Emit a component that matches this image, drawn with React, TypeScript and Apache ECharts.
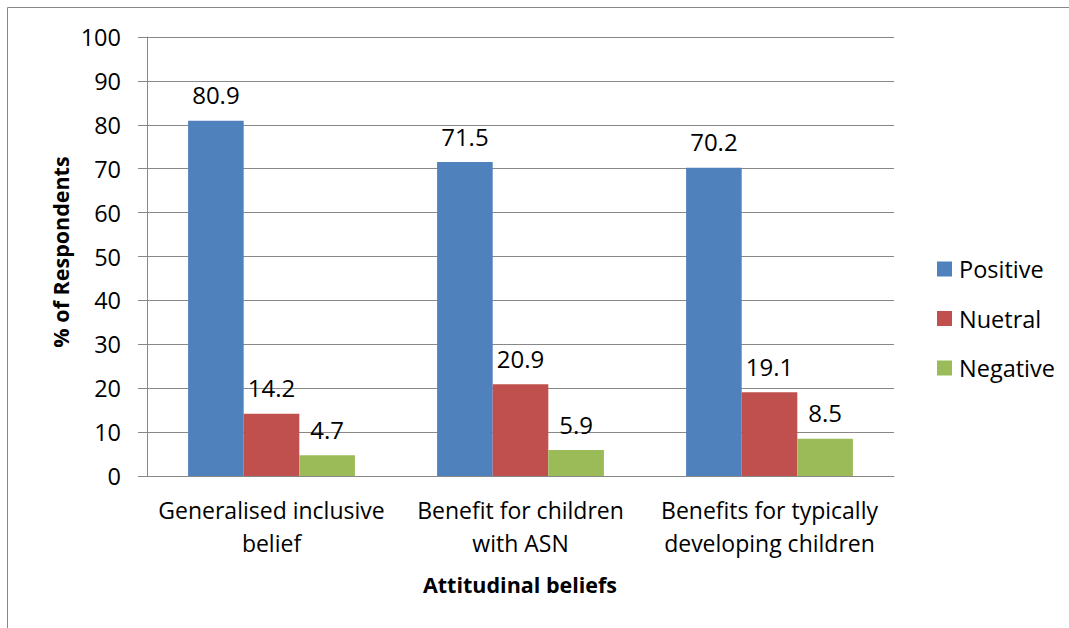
import React, { useEffect, useRef } from "react";
import * as echarts from "echarts";

const categories = [
  "Generalised inclusive\nbelief",
  "Benefit for children\nwith ASN",
  "Benefits for typically\ndeveloping children",
];
const positive = [80.9, 71.5, 70.2];
const neutral = [14.2, 20.9, 19.1];
const negative = [4.7, 5.9, 8.5];
const seriesNames = ["Positive", "Nuetral", "Negative"];
const colors = ["#4F81BD", "#C0504D", "#9BBB59"];

const FONT = "'Open Sans', sans-serif";

export default function App() {
  const ref = useRef<HTMLDivElement>(null);
  useEffect(() => {
    if (!ref.current) return;
    const chart = echarts.init(ref.current, null, { renderer: "svg" });
    const labelBase = {
      show: true,
      position: "top",
      distance: 14,
      color: "#000",
      fontSize: 24,
      fontFamily: FONT,
    };
    const mk = (name: string, data: number[], color: string) => ({
      name,
      type: "bar",
      data,
      itemStyle: { color },
      barGap: "0%",
      barCategoryGap: "33%",
      label: labelBase,
    });
    chart.setOption({
      animation: false,
      textStyle: { fontFamily: FONT },
      grid: { left: 147, top: 37, width: 747, height: 439, containLabel: false },
      legend: {
        orient: "vertical",
        left: 937,
        top: 257,
        padding: 0,
        itemWidth: 15,
        itemHeight: 15,
        itemGap: 25.5,
        icon: "rect",
        textStyle: { fontSize: 23.5, color: "#000", fontFamily: FONT, padding: [0, 0, 0, 2] },
        data: seriesNames,
      },
      xAxis: {
        type: "category",
        data: categories,
        axisLine: { lineStyle: { color: "#888", width: 1 } },
        axisTick: { show: false },
        axisLabel: {
          color: "#000",
          fontSize: 23,
          fontFamily: FONT,
          margin: 17,
          lineHeight: 33,
          interval: 0,
        },
      },
      yAxis: {
        type: "value",
        min: 0,
        max: 100,
        interval: 10,
        axisLine: { show: true, lineStyle: { color: "#888", width: 1 } },
        axisTick: { show: true, length: 9, lineStyle: { color: "#888" } },
        splitLine: { lineStyle: { color: "#888", width: 1 } },
        axisLabel: { color: "#000", fontSize: 23.5, fontFamily: FONT, margin: 26 },
      },
      graphic: [
        {
          type: "rect",
          shape: { x: 7.5, y: 7.5, width: 1200, height: 800 },
          style: { fill: "none", stroke: "#888", lineWidth: 1 },
          silent: true,
        },
        {
          type: "text",
          x: 60,
          y: 252,
          rotation: Math.PI / 2,
          style: {
            text: "% of Respondents",
            fontSize: 21.5,
            fontWeight: "bold",
            fontFamily: FONT,
            fill: "#000",
            align: "center",
            verticalAlign: "middle",
          },
        },
        {
          type: "text",
          x: 520,
          y: 584,
          style: {
            text: "Attitudinal beliefs",
            fontSize: 21.5,
            fontWeight: "bold",
            fontFamily: FONT,
            fill: "#000",
            align: "center",
            verticalAlign: "middle",
          },
        },
      ],
      series: [
        mk(seriesNames[0], positive, colors[0]),
        mk(seriesNames[1], neutral, colors[1]),
        mk(seriesNames[2], negative, colors[2]),
      ],
    });
    return () => chart.dispose();
  }, []);
  return (
    <div
      ref={ref}
      style={{ position: "absolute", left: 0, top: 0, width: 1069, height: 628, background: "#fff" }}
    />
  );
}
